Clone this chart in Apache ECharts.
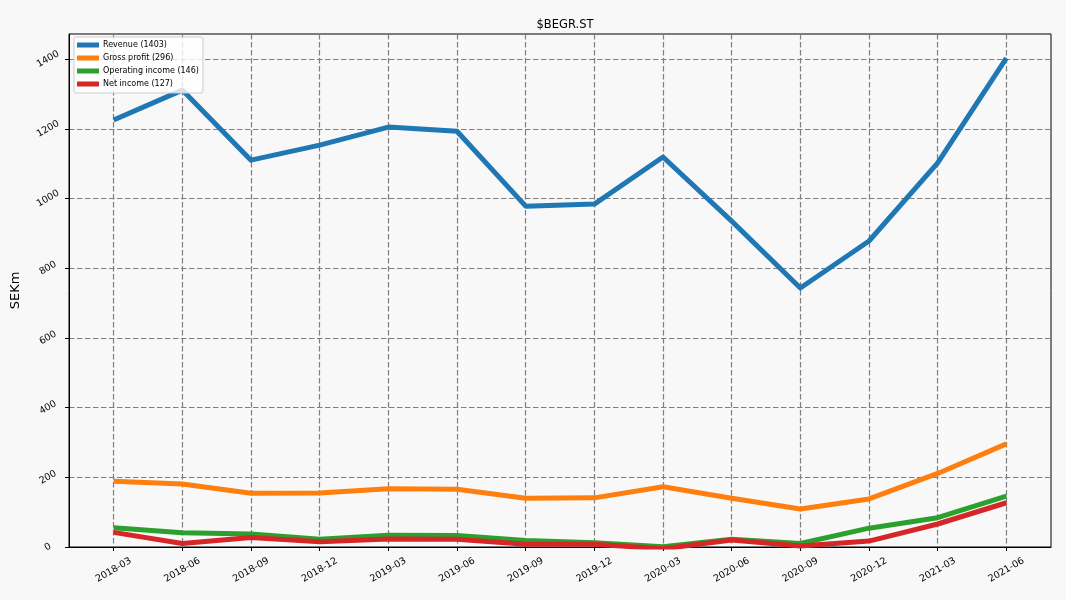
<!DOCTYPE html>
<html>
<head>
<meta charset="utf-8">
<script src="https://cdn.jsdelivr.net/npm/echarts@6/dist/echarts.min.js"></script>
<style>
html,body{margin:0;padding:0;background:#f8f8f8;}
#chart{width:1066px;height:600px;}
</style>
</head>
<body>
<div id="chart"></div>
<script>
const categories = ["2018-03","2018-06","2018-09","2018-12","2019-03","2019-06","2019-09","2019-12","2020-03","2020-06","2020-09","2020-12","2021-03","2021-06"];
const revenue = [1225,1311,1110,1153,1205,1193,978,984,1119,935,743,878,1102,1403];
const grossProfit = [189,181,154,155,167,166,140,141,173,140,109,138,211,296];
const operatingIncome = [55,41,37,22,34,33,19,12,1,22,10,54,84,146];
const netIncome = [42,10,27,15,23,22,8,8,-5,20,3,17,66,127];
const yTicks = [0,200,400,600,800,1000,1200,1400];
const seriesNames = ["Revenue (1403)","Gross profit (296)","Operating income (146)","Net income (127)"];
const colors = ["#1f77b4","#ff7f0e","#2ca02c","#d62728"];

const xIdx = categories.map((c,i)=>i);
const allData = [revenue, grossProfit, operatingIncome, netIncome];

const chart = echarts.init(document.getElementById('chart'), null, {renderer:'canvas'});
const fontFamily = 'DejaVu Sans';
const gridLine = {show:true, lineStyle:{color:'#7f7f7f', type:[5.5,2.5], width:1.2}};

chart.setOption({
  backgroundColor:'#f8f8f8',
  animation:false,
  textStyle:{fontFamily:fontFamily},
  title:{text:'$BEGR.ST', left:560, top:14, textAlign:'center',
    textStyle:{fontSize:11.5, fontWeight:'normal', color:'#000', fontFamily:fontFamily}},
  grid:{left:69, right:15, top:34, bottom:53, show:true, borderColor:'#000', borderWidth:1, backgroundColor:'transparent', containLabel:false},
  legend:{
    left:74, top:37, orient:'vertical',
    data: seriesNames,
    icon:'rect', itemWidth:22, itemHeight:5, itemGap:3,
    padding:[3,4,4,3],
    backgroundColor:'rgba(255,255,255,0.8)', borderColor:'#cccccc', borderWidth:1, borderRadius:2,
    textStyle:{fontSize:8, lineHeight:10, color:'#000', fontFamily:fontFamily, padding:[0,0,0,-1]}
  },
  xAxis:{
    type:'value', min:-0.65, max:13.65,
    axisLine:{show:true, onZero:false, lineStyle:{color:'#000', width:1}},
    axisTick:{show:true, length:4, inside:false, customValues:xIdx, lineStyle:{color:'#000'}},
    axisLabel:{show:true, customValues:xIdx, rotate:30, align:'center', verticalAlign:'middle', margin:23,
      fontSize:9.5, color:'#000', fontFamily:fontFamily,
      formatter:(v)=>categories[Math.round(v)] ?? ''},
    splitLine:gridLine
  },
  yAxis:{
    type:'value', min:0, max:1472,
    name:'SEKm', nameLocation:'middle', nameGap:47, nameRotate:90,
    nameTextStyle:{fontSize:13, color:'#000', fontFamily:fontFamily},
    axisLine:{show:true, onZero:false, lineStyle:{color:'#000', width:1}},
    axisTick:{show:true, length:4, customValues:yTicks, lineStyle:{color:'#000'}},
    axisLabel:{show:true, customValues:yTicks, rotate:30, align:'center', verticalAlign:'middle', margin:21,
      fontSize:9.5, color:'#000', fontFamily:fontFamily,
      formatter:(v)=>String(v)},
    splitLine:gridLine
  },
  series: allData.map((d,k)=>({
    name:seriesNames[k], type:'line', showSymbol:false, symbol:'none',
    data:d.map((v,i)=>[xIdx[i], v]),
    lineStyle:{color:colors[k], width:5, cap:'butt', join:'round'},
    itemStyle:{color:colors[k]},
    clip:true, z:2+k
  }))
});
</script>
</body>
</html>
